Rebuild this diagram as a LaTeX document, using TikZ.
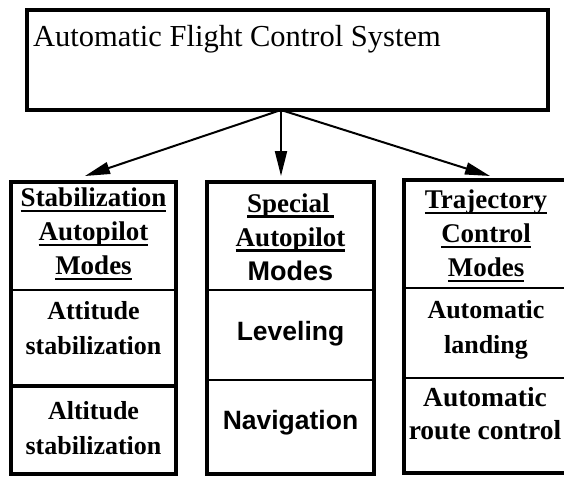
\documentclass[tikz,border=0pt]{standalone}
\usepackage{fontspec}
\setmainfont{Liberation Serif}
\setsansfont{Liberation Sans}
\usetikzlibrary{arrows.meta}

% underline at a fixed depth below the baseline
\newcommand{\uln}[1]{\setbox0\hbox{#1}\rlap{\rule[-0.2em]{\wd0}{0.085em}}\box0}

\begin{document}
\begin{tikzpicture}[x=1pt,y=-1pt,
  panel/.style={draw, line width=3.2pt, inner sep=0pt, outer sep=0pt},
  topbox/.style={draw, line width=4pt, inner sep=0pt, outer sep=0pt},
  divider/.style={line width=2.4pt},
  heavy/.style={draw, line width=4pt, inner sep=0pt, outer sep=0pt},
  link/.style={line width=2pt, -{Triangle[length=25pt,width=12pt]}},
  head/.style={align=center, font=\bfseries\fontsize{27pt}{34pt}\selectfont},
  body/.style={align=center, font=\bfseries\fontsize{26pt}{35pt}\selectfont},
  bigbody/.style={align=center, font=\bfseries\fontsize{27.5pt}{33pt}\selectfont},
  sbody/.style={align=center, font=\sffamily\bfseries\fontsize{26.5pt}{32pt}\selectfont}]

\useasboundingbox (0,0) rectangle (564,476);
\clip (0,0) rectangle (564,476);
\fill[white] (0,0) rectangle (564,476);

% main system box
\node[topbox, minimum width=521pt, minimum height=100pt] (afcs) at (287.5,60) {};
\node[anchor=base west, inner sep=0pt, font=\fontsize{30.5pt}{36pt}\selectfont]
  (afcstext) at (33,47) {Automatic Flight Control System};

% mode columns
\node[panel, minimum width=165pt, minimum height=292pt] (stab) at (93.5,328) {};
\node[panel, minimum width=167pt, minimum height=292pt] (spec) at (290.5,328) {};
\node[panel, minimum width=164pt, minimum height=293pt] (traj) at (486,326.5) {};

% section dividers
\draw[divider] (stab.west |- 0,290) -- (stab.east |- 0,290);
\node[heavy, minimum width=165pt, minimum height=88pt] (alt) at (93.5,430) {};
\draw[divider] (spec.west |- 0,290) -- (spec.east |- 0,290);
\draw[divider] (spec.west |- 0,380) -- (spec.east |- 0,380);
\draw[divider] (traj.west |- 0,288) -- (traj.east |- 0,288);
\draw[divider] (traj.west |- 0,378) -- (traj.east |- 0,378);

% connectors
\coordinate (hub) at (281,110);
\coordinate (tipL) at (85,176);
\coordinate (tipM) at (281,176);
\coordinate (tipR) at (490,176);
\draw[link] (hub) -- (tipL);
\draw[link] (hub) -- (tipM);
\draw[link] (hub) -- (tipR);

% column texts
\node[head] (stabhead) at (93.5,234) {\uln{Stabilization}\\\uln{Autopilot}\\\uln{Modes}};
\node[body] (att) at (93.5,328) {Attitude\\stabilization};
\node[body] (altt) at (93.5,428) {Altitude\\stabilization};

\node[head] (spechead) at (290.5,237) {\uln{Special\,}\\\uln{Autopilot}\\{\sffamily Modes}};
\node[sbody] (lev) at (290.5,334) {Leveling};
\node[sbody] (nav) at (290.5,423) {Navigation};

\node[head] (trajhead) at (486,236) {\uln{Trajectory}\\\uln{Control}\\\uln{Modes}};
\node[body] (land) at (486,330) {Automatic\\landing};
\node[bigbody] (route) at (485,414) {Automatic\\route control};

\end{tikzpicture}
\end{document}
